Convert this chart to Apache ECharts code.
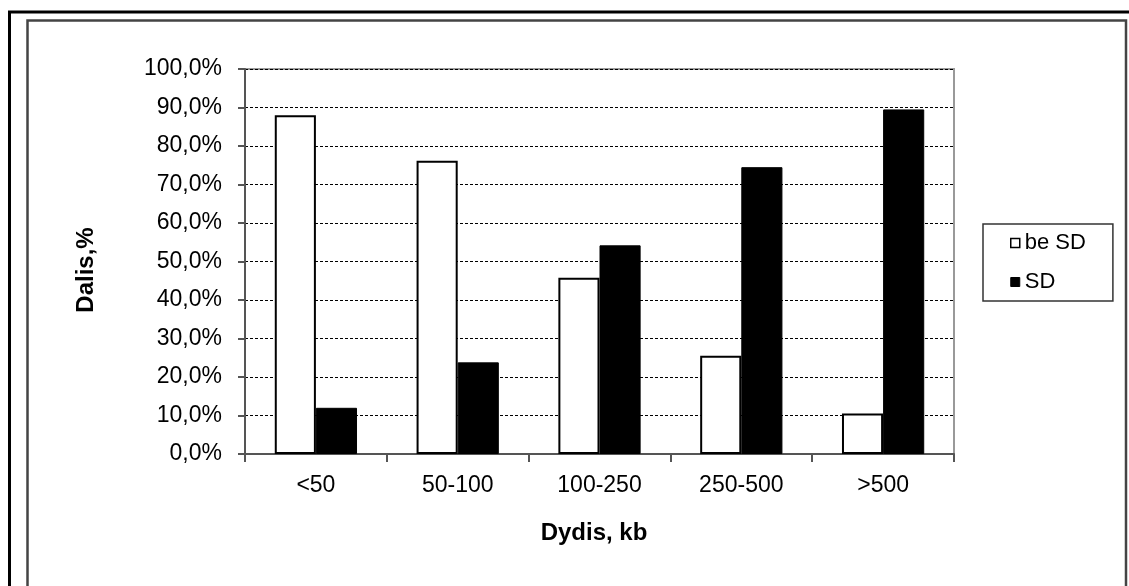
<!DOCTYPE html>
<html>
<head>
<meta charset="utf-8">
<script src="https://cdn.jsdelivr.net/npm/echarts@6/dist/echarts.min.js"></script>
<style>
html,body{margin:0;padding:0;background:#fff;}
#c{width:1129px;height:586px;}
</style>
</head>
<body>
<div id="c"></div>
<script>
var categories = ['<50', '50-100', '100-250', '250-500', '>500'];
var beSD = [88.0, 76.2, 45.8, 25.5, 10.5];
var SD = [12.0, 23.8, 54.2, 74.5, 89.5];
var seriesNames = ['be SD', 'SD'];
var xTitle = 'Dydis, kb';
var yTitle = 'Dalis,%';

var font = 'Liberation Sans, Arial, sans-serif';
var chart = echarts.init(document.getElementById('c'));
chart.setOption({
  animation: false,
  backgroundColor: '#fff',
  graphic: [
    {type: 'rect', shape: {x: 9.5, y: 12, width: 1300, height: 800}, style: {fill: 'none', stroke: '#000', lineWidth: 3}, silent: true, z: -10},
    {type: 'rect', shape: {x: 27.5, y: 20.5, width: 1098.5, height: 800}, style: {fill: 'none', stroke: '#444', lineWidth: 2.5}, silent: true, z: -10}
  ],
  grid: {left: 245, right: 175, top: 69, bottom: 132, show: true, borderColor: '#999', borderWidth: 2, backgroundColor: 'transparent'},
  legend: {
    orient: 'vertical', left: 983, top: 224,
    padding: [8, 27, 8, 27], itemGap: 17,
    itemWidth: 9, itemHeight: 9,
    borderColor: '#333', borderWidth: 1.5,
    textStyle: {fontFamily: font, fontSize: 22, color: '#000', lineHeight: 22},
    data: [
      {name: seriesNames[0], icon: 'rect', itemStyle: {color: '#fff', borderColor: '#000', borderWidth: 1.5}},
      {name: seriesNames[1], icon: 'rect', itemStyle: {color: '#000', borderColor: '#000', borderWidth: 1}}
    ]
  },
  xAxis: {
    type: 'category', data: categories,
    name: xTitle, nameLocation: 'middle', nameGap: 67,
    nameTextStyle: {fontFamily: font, fontSize: 24, fontWeight: 'bold', color: '#000', padding: [0, 11, 0, 0]},
    axisLine: {lineStyle: {color: '#555', width: 2}},
    axisTick: {show: true, length: 8, lineStyle: {color: '#555', width: 2}},
    axisLabel: {fontFamily: font, fontSize: 23, color: '#000', margin: 20},
    splitLine: {show: false}
  },
  yAxis: {
    type: 'value', min: 0, max: 100, interval: 10,
    name: yTitle, nameLocation: 'middle', nameGap: 147, nameRotate: 90,
    nameTextStyle: {fontFamily: font, fontSize: 24, fontWeight: 'bold', color: '#000', padding: [0, 17, 0, 0]},
    axisLine: {show: true, lineStyle: {color: '#555', width: 2}},
    axisTick: {show: true, length: 7, lineStyle: {color: '#555', width: 2}},
    axisLabel: {fontFamily: font, fontSize: 23, color: '#000', margin: 23,
      formatter: function (v) { return v.toFixed(1).replace('.', ',') + '%'; }},
    splitLine: {show: true, lineStyle: {color: '#000', width: 1, type: [3, 2]}}
  },
  series: [
    {name: seriesNames[0], type: 'bar', data: beSD, barGap: '0%', barCategoryGap: '42%',
      itemStyle: {color: '#fff', borderColor: '#000', borderWidth: 2}},
    {name: seriesNames[1], type: 'bar', data: SD, barGap: '0%', barCategoryGap: '42%',
      itemStyle: {color: '#000', borderColor: '#000', borderWidth: 1}}
  ]
});
</script>
</body>
</html>
